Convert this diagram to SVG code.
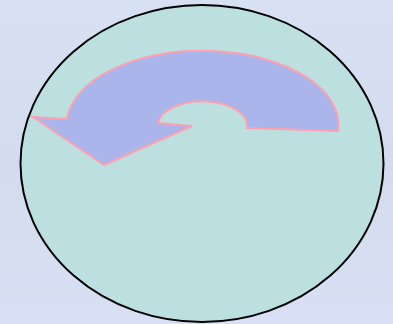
<svg xmlns="http://www.w3.org/2000/svg" width="393" height="324" viewBox="0 0 393 324">
<defs>
<linearGradient id="bg" x1="0" y1="0" x2="0" y2="1">
<stop offset="0" stop-color="#d8e0f3"/>
<stop offset="0.5" stop-color="#d3dbee"/>
<stop offset="1" stop-color="#d9e0f5"/>
</linearGradient>
<style>
.disc{fill:#bcdfe0;stroke:#000;stroke-width:2}
.arrow{fill:#aab5ec;stroke:#ffa0b0;stroke-width:2;stroke-linejoin:miter}
</style>
</defs>
<rect x="0" y="0" width="393" height="324" fill="url(#bg)"/>
<g id="disc">
<ellipse class="disc" cx="202" cy="163.5" rx="181.5" ry="158.5"/>
</g>
<g id="arrow">
<path class="arrow" d="M67,119 A135.5 74 0 0 1 338,131 L247,128 A44.5 24 0 0 0 158,123 L192,126 L104,165 L33,117 Z"/>
</g>
</svg>
